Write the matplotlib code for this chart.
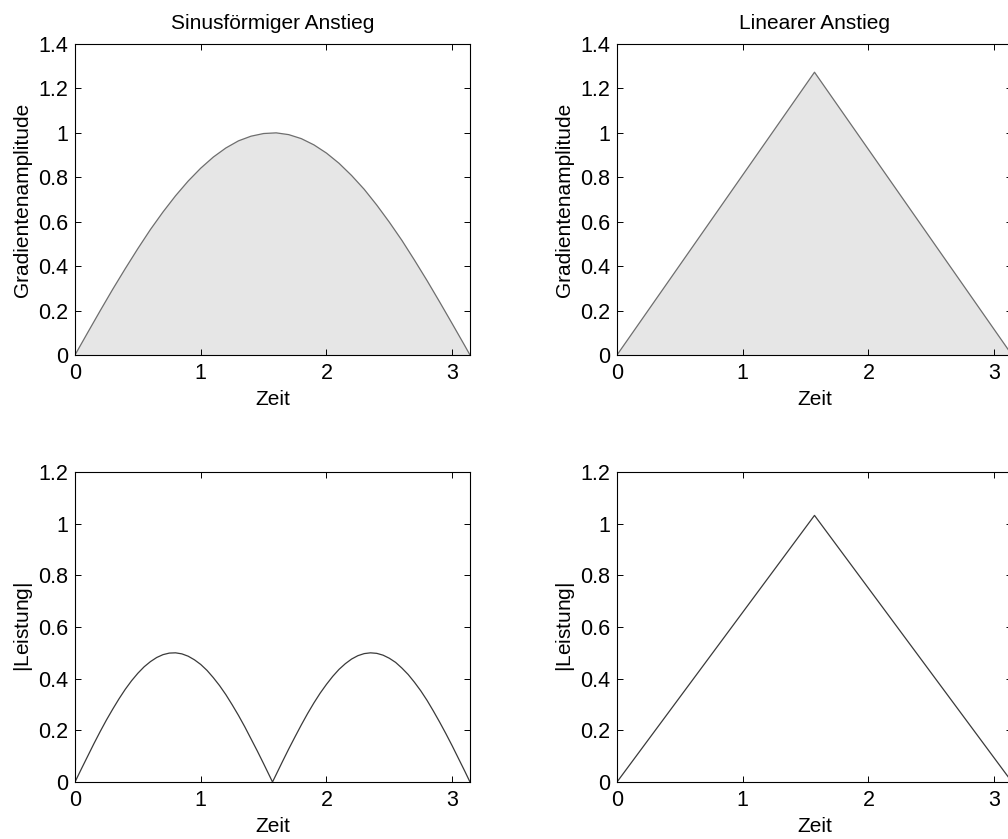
import matplotlib
matplotlib.use("Agg")
import matplotlib.pyplot as plt

plt.rcParams['font.family'] = ['Liberation Sans', 'DejaVu Sans']
plt.rcParams['mathtext.fontset'] = 'custom'
plt.rcParams['mathtext.rm'] = 'Liberation Sans'
plt.rcParams['mathtext.it'] = 'Liberation Sans'

# Sinusoidal ramp: gradient amplitude over time
t_sin = [0.0, 0.1, 0.2, 0.3, 0.4, 0.5, 0.6, 0.7, 0.8, 0.9, 1.0, 1.1, 1.2, 1.3,
         1.4, 1.5, 1.6, 1.7, 1.8, 1.9, 2.0, 2.1, 2.2, 2.3, 2.4, 2.5, 2.6, 2.7,
         2.8, 2.9, 3.0, 3.1, 3.1416]
g_sin = [0.000, 0.100, 0.199, 0.296, 0.389, 0.479, 0.565, 0.644, 0.717, 0.783,
         0.841, 0.891, 0.932, 0.964, 0.985, 0.997, 1.000, 0.992, 0.974, 0.946,
         0.909, 0.863, 0.808, 0.746, 0.675, 0.598, 0.516, 0.427, 0.335, 0.239,
         0.141, 0.042, 0.000]

# Sinusoidal ramp: |power| over time
t_pow_sin = [0.0, 0.05, 0.1, 0.15, 0.2, 0.25, 0.3, 0.35, 0.4, 0.45, 0.5, 0.55,
             0.6, 0.65, 0.7, 0.75, 0.8, 0.85, 0.9, 0.95, 1.0, 1.05, 1.1, 1.15,
             1.2, 1.25, 1.3, 1.35, 1.4, 1.45, 1.5, 1.55, 1.5708, 1.6, 1.65, 1.7,
             1.75, 1.8, 1.85, 1.9, 1.95, 2.0, 2.05, 2.1, 2.15, 2.2, 2.25, 2.3,
             2.35, 2.4, 2.45, 2.5, 2.55, 2.6, 2.65, 2.7, 2.75, 2.8, 2.85, 2.9,
             2.95, 3.0, 3.05, 3.1, 3.1416]
p_sin = [0.000, 0.050, 0.099, 0.148, 0.195, 0.240, 0.282, 0.322, 0.359, 0.392,
         0.421, 0.446, 0.466, 0.482, 0.493, 0.499, 0.500, 0.496, 0.487, 0.473,
         0.455, 0.432, 0.404, 0.373, 0.338, 0.299, 0.258, 0.214, 0.167, 0.120,
         0.071, 0.021, 0.000, 0.029, 0.079, 0.128, 0.175, 0.221, 0.265, 0.306,
         0.344, 0.378, 0.409, 0.436, 0.458, 0.476, 0.489, 0.497, 0.500, 0.498,
         0.491, 0.479, 0.463, 0.441, 0.416, 0.386, 0.353, 0.316, 0.275, 0.232,
         0.187, 0.140, 0.091, 0.042, 0.000]

# Linear ramp
t_lin = [0.0, 1.5708, 3.1416]
g_lin = [0.0, 1.273, 0.0]
p_lin = [0.0, 1.032, 0.0]

titles = ["Sinusförmiger Anstieg", "Linearer Anstieg"]
x_ticks = [0, 1, 2, 3]
y_ticks_top = [0, 0.2, 0.4, 0.6, 0.8, 1, 1.2, 1.4]
y_ticks_bottom = [0, 0.2, 0.4, 0.6, 0.8, 1, 1.2]
x_max = 3.1416

W, H = 1008, 839
fig = plt.figure(figsize=(W / 100, H / 100), dpi=100)

FS = 15
TICK_FS = 15.5


def make_axes(left_px, top_px, w_px, h_px):
    ax = fig.add_axes([left_px / W, 1 - (top_px + h_px) / H, w_px / W, h_px / H])
    for s in ax.spines.values():
        s.set_linewidth(0.8)
        s.set_color('black')
    ax.tick_params(direction='in', length=4.5, width=0.7, top=True, right=True,
                   labelsize=TICK_FS)
    ax.tick_params(axis='x', pad=6)
    ax.tick_params(axis='y', pad=5)
    ax.set_xlim(0, x_max)
    ax.set_xticks(x_ticks)
    ax.set_xticklabels([str(v) for v in x_ticks])
    return ax


def fmt(v):
    return f"{v:g}"


# top row: gradient amplitude with filled area
for col, (t, g) in enumerate([(t_sin, g_sin), (t_lin, g_lin)]):
    left = 75 if col == 0 else 617
    ax = make_axes(left, 44, 395, 311)
    ax.fill_between(t, g, 0, facecolor='#e6e6e6', edgecolor='none')
    ax.plot(t, g, color='#6e6e6e', lw=0.9)
    ax.set_ylim(0, 1.4)
    ax.set_yticks(y_ticks_top)
    ax.set_yticklabels([fmt(v) for v in y_ticks_top])
    ax.set_title(titles[col], fontsize=FS, pad=11)
    ax.set_xlabel("Zeit", fontsize=FS, labelpad=4)
    ax.set_ylabel("Gradientenamplitude", fontsize=FS, labelpad=4)

# bottom row: absolute power
for col, (t, p) in enumerate([(t_pow_sin, p_sin), (t_lin, p_lin)]):
    left = 75 if col == 0 else 617
    ax = make_axes(left, 472, 395, 310)
    ax.plot(t, p, color='#3a3a3a', lw=0.9)
    ax.set_ylim(0, 1.2)
    ax.set_yticks(y_ticks_bottom)
    ax.set_yticklabels([fmt(v) for v in y_ticks_bottom])
    ax.set_xlabel("Zeit", fontsize=FS, labelpad=4)
    ax.set_ylabel(r"$\left|\mathrm{Leistung}\right|$", fontsize=FS, labelpad=2)

fig.savefig("out.png", dpi=100, facecolor='white')
